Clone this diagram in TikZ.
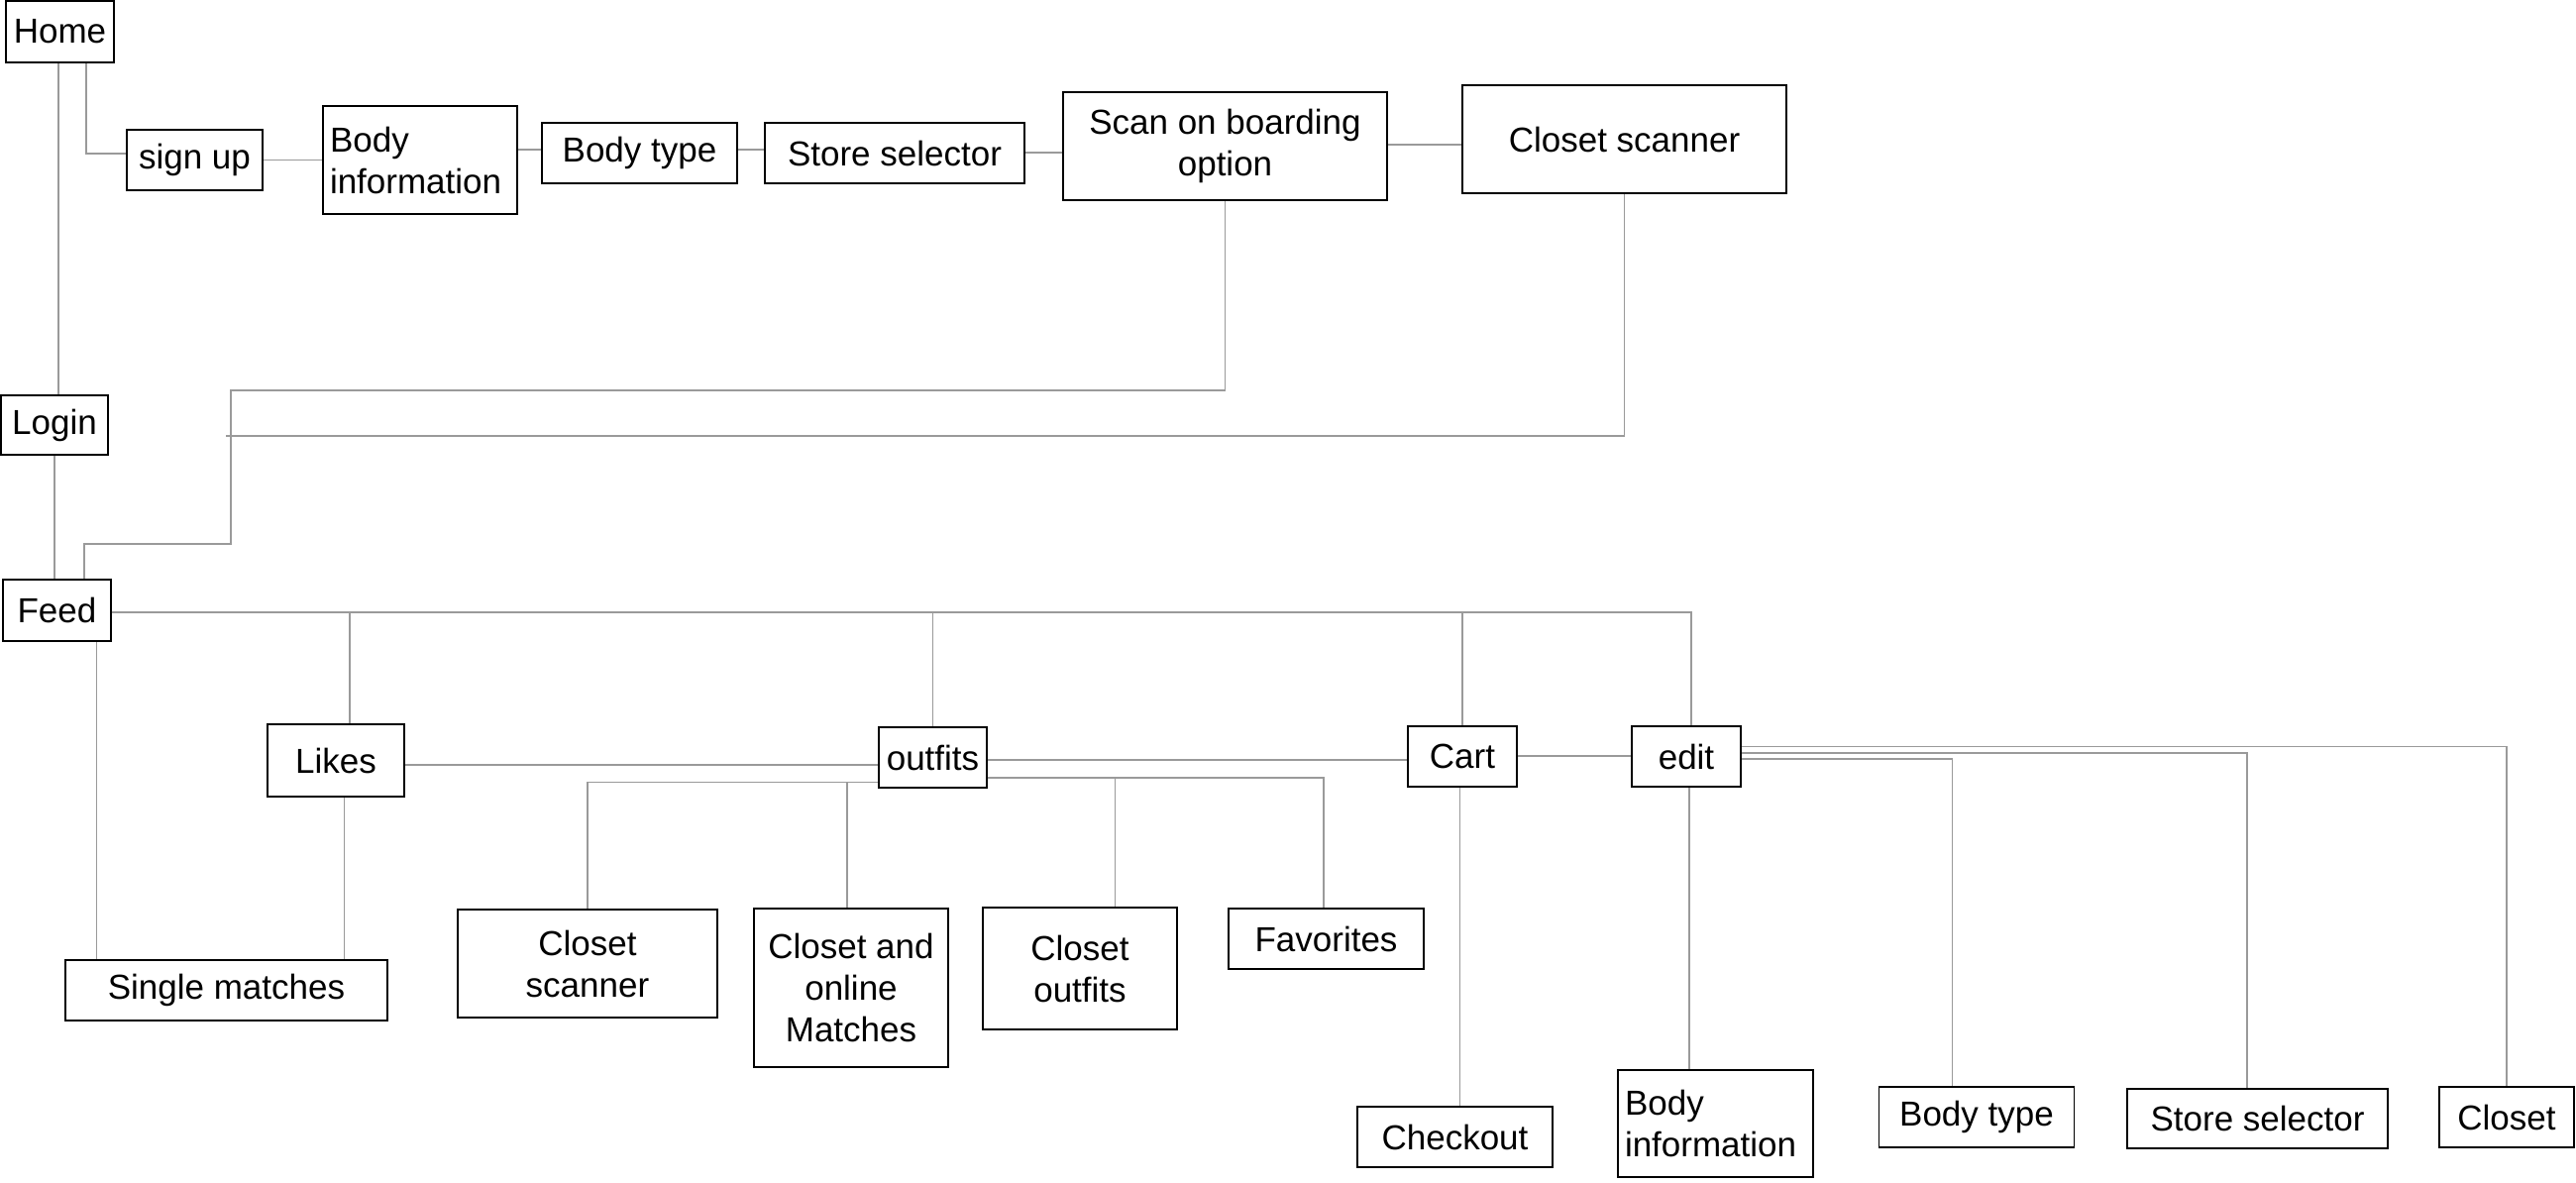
\documentclass[tikz,border=0pt]{standalone}
\usepackage{fontspec}
\setmainfont{Liberation Sans}
\definecolor{linegray}{HTML}{9A9A9A}
\tikzset{
  box/.style={draw=black, line width=1.6pt, inner sep=0pt, align=center, font=\fontsize{35}{42}\selectfont},
  leftbox/.style={box, inner xsep=7pt, align=left},
  conn/.style={draw=linegray, line width=1.3pt},
  connthick/.style={draw=linegray, line width=2.4pt}
}
\begin{document}
\begin{tikzpicture}[x=1pt,y=-1pt]
\useasboundingbox (0,0) rectangle (2600,1194);
% top row
\node[box, minimum width=109pt, minimum height=62pt] (home) at (60.5,32) {Home};
\node[box, minimum width=137pt, minimum height=61pt] (signup) at (196.5,161.5) {sign up};
\node[leftbox, text width=182pt, minimum height=109pt] (bodyinfo) at (424,161.5) {Body\\information};
\node[box, minimum width=197pt, minimum height=61pt] (bodytype) at (645.5,154.5) {Body type};
\node[box, minimum width=262pt, minimum height=61pt] (store) at (903,154.5) {Store selector};
\node[box, minimum width=327pt, minimum height=109pt] (scan) at (1236.5,147.5) {Scan on boarding\\option};
\node[box, minimum width=327pt, minimum height=109pt] (closetscan) at (1639.5,140.5) {Closet scanner};
% left column
\node[box, minimum width=108pt, minimum height=60pt] (login) at (55,429) {Login};
\node[box, minimum width=109pt, minimum height=62pt] (feed) at (57.5,616) {Feed};
% middle row
\node[box, minimum width=138pt, minimum height=73pt] (likes) at (339,767.5) {Likes};
\node[box, minimum width=109pt, minimum height=61pt] (outfits) at (941.5,764.5) {outfits};
\node[box, minimum width=110pt, minimum height=61pt] (cart) at (1476,763.5) {Cart};
\node[box, minimum width=110pt, minimum height=61pt] (edit) at (1702,763.5) {edit};
% lower row
\node[box, minimum width=325pt, minimum height=61pt] (single) at (228.5,999.5) {Single matches};
\node[box, minimum width=262pt, minimum height=109pt] (closetscan2) at (593,972.5) {Closet\\scanner};
\node[box, minimum width=196pt, minimum height=160pt] (closetonline) at (859,997) {Closet and\\online\\Matches};
\node[box, minimum width=196pt, minimum height=123pt] (closetoutfits) at (1090,977.5) {Closet\\outfits};
\node[box, minimum width=197pt, minimum height=61pt] (favorites) at (1338.5,947.5) {Favorites};
\node[box, minimum width=197pt, minimum height=61pt] (checkout) at (1468.5,1147.5) {Checkout};
\node[leftbox, text width=183pt, minimum height=108pt] (bodyinfo2) at (1731.5,1134) {Body\\information};
\node[box, minimum width=197pt, minimum height=61pt] (bodytype2) at (1995,1127.5) {Body type};
\node[box, minimum width=263pt, minimum height=60pt] (store2) at (2278.5,1129) {Store selector};
\node[box, minimum width=136pt, minimum height=61pt] (closet) at (2530,1127.5) {Closet};
% connectors, top
\draw[conn] (59,0 |- home.south) -- (59,0 |- login.north);
\draw[conn] (87,0 |- home.south) |- (signup.west |- 0,155);
\draw[conn] (signup.east) -- (bodyinfo.west |- signup.east);
\draw[conn] (bodyinfo.east |- 0,151) -- (bodytype.west |- 0,151);
\draw[conn] (bodytype.east |- 0,151) -- (store.west |- 0,151);
\draw[conn] (store.east |- 0,154) -- (scan.west |- 0,154);
\draw[conn] (scan.east |- 0,146) -- (closetscan.west |- 0,146);
\draw[conn] (scan.south) -- (scan.south |- 0,394) -- (233,394) -- (233,549) -- (85,549) -- (85,0 |- feed.north);
\coordinate (j1) at (228,440);
\draw[conn] (closetscan.south) |- (j1);
\draw[conn] (login.south) -- (feed.north -| login.south);
% feed branches
\draw[conn] (feed.east |- 0,618) -| (1707,0 |- edit.north);
\draw[conn] (353,618) -- (353,0 |- likes.north);
\draw[conn] (outfits.north |- 0,618) -- (outfits.north);
\draw[conn] (cart.north |- 0,618) -- (cart.north);
\draw[conn] (97.5,0 |- feed.south) -- (97.5,0 |- single.north);
\draw[conn] (347.5,0 |- likes.south) -- (347.5,0 |- single.north);
\draw[conn] (likes.east |- 0,772) -- (outfits.west |- 0,772);
% outfits branches
\draw[conn] (outfits.west |- 0,789.5) -| (closetscan2.north);
\draw[conn] (855,789.5) -- (855,0 |- closetonline.north);
\draw[conn] (outfits.east |- 0,785) -| (1336,0 |- favorites.north);
\draw[conn] (1125.5,785) -- (1125.5,0 |- closetoutfits.north);
\draw[connthick] (outfits.east |- 0,767) -- (cart.west |- 0,767);
\draw[connthick] (cart.east |- 0,763) -- (edit.west |- 0,763);
\draw[conn] (1473.5,0 |- cart.south) -- (1473.5,0 |- checkout.north);
% edit branches
\draw[conn] (1705,0 |- edit.south) -- (1705,0 |- bodyinfo2.north);
\draw[conn] (edit.east |- 0,753.5) -| (closet.north);
\draw[connthick] (edit.east |- 0,760) -| (2268,0 |- store2.north);
\draw[conn] (edit.east |- 0,766) -| (1970.5,0 |- bodytype2.north);
\end{tikzpicture}
\end{document}
